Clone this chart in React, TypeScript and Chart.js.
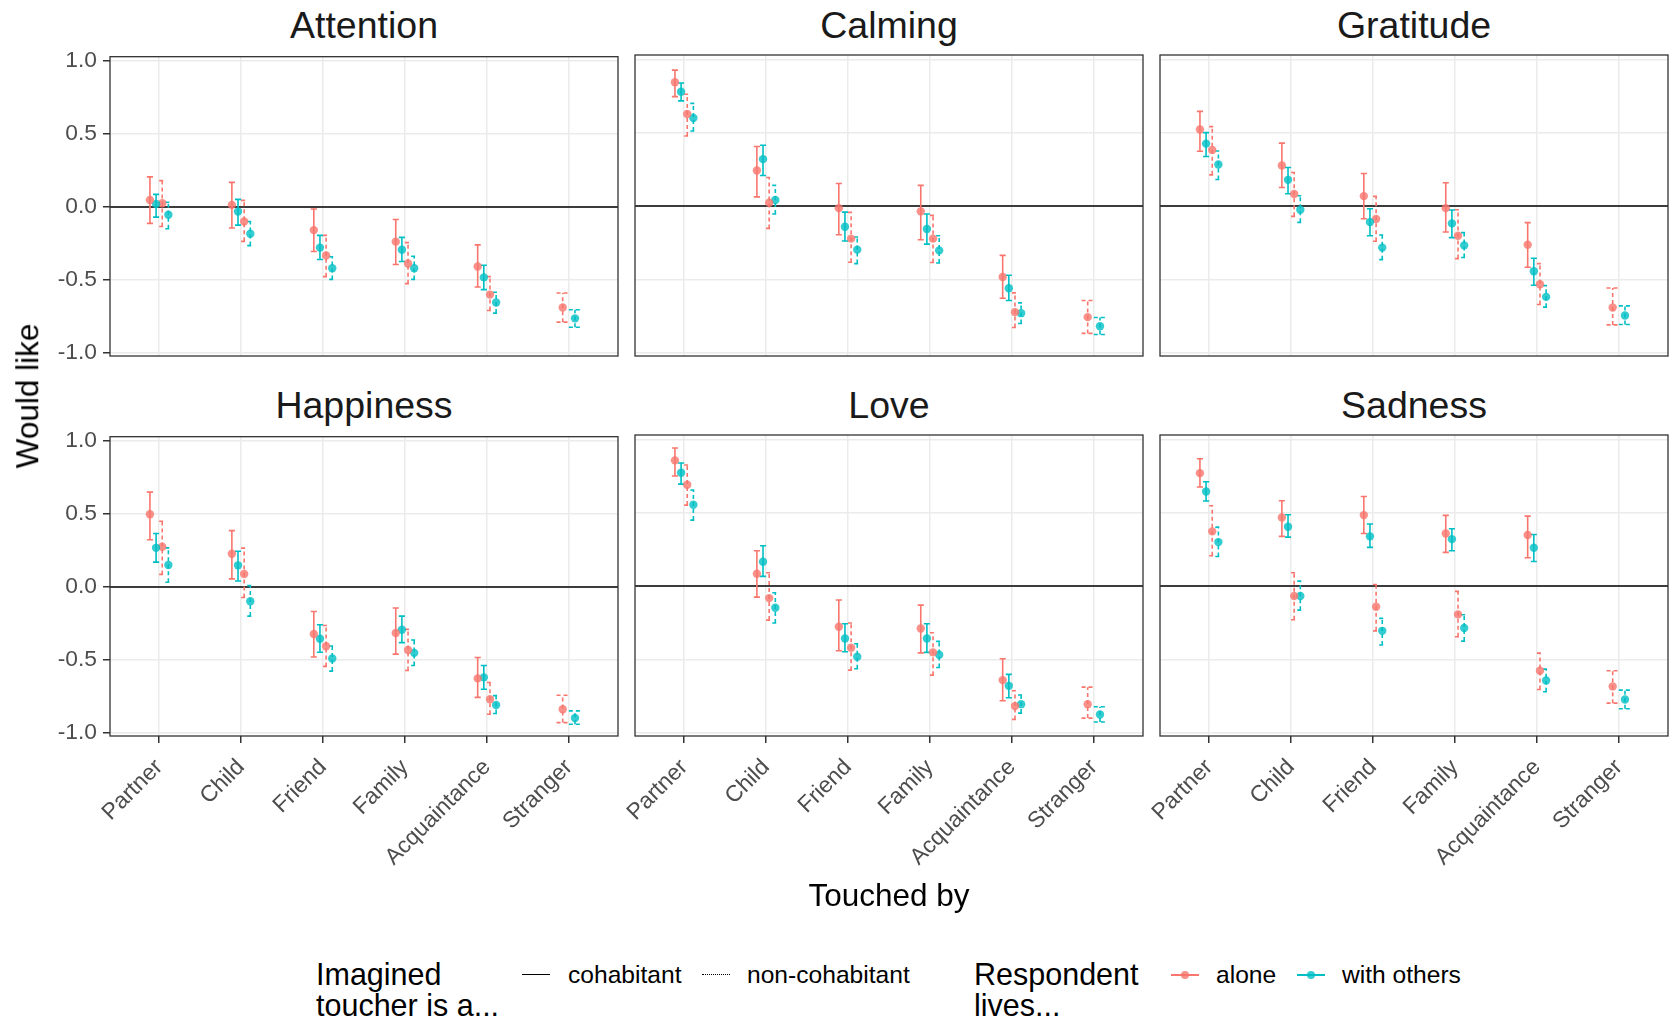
import React, { useEffect, useRef } from "react";
import { Chart, registerables } from "chart.js";

Chart.register(...registerables);

// ---------------- data ----------------
const categories = ["Partner", "Child", "Friend", "Family", "Acquaintance", "Stranger"];
const emotions = ["Attention", "Calming", "Gratitude", "Happiness", "Love", "Sadness"];
const yTicks = [-1, -0.5, 0, 0.5, 1];
const groupLabels = ["cohabitant / alone", "cohabitant / with others", "non-cohabitant / alone", "non-cohabitant / with others"];

// each entry: [mean, lower, upper]; null = no estimate
const attentionCohabAlone = [[0.048, -0.113, 0.206], [0.014, -0.145, 0.168], [-0.159, -0.306, -0.014], [-0.238, -0.395, -0.086], [-0.408, -0.549, -0.26], null];
const attentionCohabOthers = [[0.02, -0.07, 0.086], [-0.032, -0.125, 0.052], [-0.279, -0.36, -0.195], [-0.293, -0.374, -0.209], [-0.483, -0.567, -0.4], null];
const attentionNonAlone = [[0.025, -0.134, 0.18], [-0.1, -0.236, 0.045], [-0.333, -0.478, -0.195], [-0.388, -0.526, -0.245], [-0.601, -0.71, -0.478], [-0.689, -0.79, -0.59]];
const attentionNonOthers = [[-0.054, -0.15, 0.032], [-0.184, -0.265, -0.1], [-0.42, -0.497, -0.342], [-0.42, -0.497, -0.338], [-0.655, -0.728, -0.585], [-0.764, -0.825, -0.705]];

const calmingCohabAlone = [[0.844, 0.746, 0.927], [0.243, 0.063, 0.406], [-0.014, -0.195, 0.154], [-0.036, -0.229, 0.141], [-0.483, -0.628, -0.336], null];
const calmingCohabOthers = [[0.78, 0.717, 0.839], [0.32, 0.209, 0.415], [-0.141, -0.238, -0.041], [-0.156, -0.259, -0.054], [-0.56, -0.644, -0.472], null];
const calmingNonAlone = [[0.628, 0.478, 0.762], [0.023, -0.152, 0.195], [-0.222, -0.383, -0.043], [-0.222, -0.385, -0.063], [-0.723, -0.828, -0.592], [-0.757, -0.868, -0.644]];
const calmingNonOthers = [[0.601, 0.512, 0.7], [0.041, -0.054, 0.141], [-0.297, -0.392, -0.211], [-0.302, -0.388, -0.202], [-0.73, -0.8, -0.66], [-0.819, -0.875, -0.76]];

const gratitudeCohabAlone = [[0.522, 0.374, 0.646], [0.277, 0.127, 0.429], [0.068, -0.086, 0.222], [-0.014, -0.177, 0.159], [-0.263, -0.417, -0.113], null];
const gratitudeCohabOthers = [[0.426, 0.338, 0.501], [0.179, 0.084, 0.263], [-0.109, -0.202, -0.018], [-0.118, -0.215, -0.027], [-0.444, -0.54, -0.356], null];
const gratitudeNonAlone = [[0.383, 0.213, 0.542], [0.082, -0.07, 0.229], [-0.088, -0.24, 0.066], [-0.202, -0.358, -0.025], [-0.533, -0.671, -0.392], [-0.692, -0.81, -0.558]];
const gratitudeNonOthers = [[0.283, 0.181, 0.376], [-0.025, -0.111, 0.07], [-0.283, -0.365, -0.197], [-0.268, -0.351, -0.181], [-0.619, -0.689, -0.542], [-0.746, -0.807, -0.68]];

const happinessCohabAlone = [[0.498, 0.323, 0.65], [0.227, 0.055, 0.386], [-0.323, -0.48, -0.168], [-0.316, -0.461, -0.145], [-0.627, -0.757, -0.484], null];
const happinessCohabOthers = [[0.268, 0.17, 0.366], [0.148, 0.041, 0.245], [-0.355, -0.448, -0.259], [-0.293, -0.382, -0.2], [-0.62, -0.702, -0.539], null];
const happinessNonAlone = [[0.275, 0.086, 0.45], [0.089, -0.073, 0.266], [-0.407, -0.545, -0.264], [-0.432, -0.573, -0.291], [-0.77, -0.873, -0.655], [-0.839, -0.93, -0.743]];
const happinessNonOthers = [[0.15, 0.032, 0.268], [-0.098, -0.2, 0.009], [-0.491, -0.577, -0.405], [-0.452, -0.539, -0.364], [-0.809, -0.868, -0.745], [-0.898, -0.941, -0.85]];

const loveCohabAlone = [[0.857, 0.75, 0.941], [0.084, -0.075, 0.241], [-0.277, -0.441, -0.095], [-0.289, -0.455, -0.13], [-0.641, -0.782, -0.495], null];
const loveCohabOthers = [[0.773, 0.695, 0.839], [0.166, 0.066, 0.275], [-0.357, -0.448, -0.257], [-0.357, -0.452, -0.257], [-0.68, -0.761, -0.602], null];
const loveNonAlone = [[0.691, 0.552, 0.825], [-0.082, -0.232, 0.091], [-0.42, -0.573, -0.252], [-0.452, -0.607, -0.318], [-0.818, -0.909, -0.714], [-0.805, -0.9, -0.689]];
const loveNonOthers = [[0.555, 0.45, 0.655], [-0.148, -0.252, -0.045], [-0.482, -0.564, -0.393], [-0.468, -0.555, -0.377], [-0.805, -0.866, -0.743], [-0.875, -0.927, -0.823]];

const sadnessCohabAlone = [[0.77, 0.675, 0.868], [0.468, 0.339, 0.582], [0.484, 0.359, 0.611], [0.359, 0.23, 0.482], [0.348, 0.193, 0.477], null];
const sadnessCohabOthers = [[0.645, 0.58, 0.711], [0.405, 0.334, 0.486], [0.339, 0.264, 0.423], [0.32, 0.241, 0.391], [0.261, 0.168, 0.352], null];
const sadnessNonAlone = [[0.373, 0.207, 0.548], [-0.068, -0.23, 0.091], [-0.141, -0.305, 0.011], [-0.193, -0.345, -0.036], [-0.577, -0.705, -0.457], [-0.684, -0.798, -0.577]];
const sadnessNonOthers = [[0.3, 0.202, 0.402], [-0.068, -0.164, 0.034], [-0.305, -0.402, -0.22], [-0.286, -0.375, -0.195], [-0.643, -0.72, -0.566], [-0.773, -0.836, -0.709]];

const panelSeries: Record<string, (number[] | null)[][]> = {
  Attention: [attentionCohabAlone, attentionCohabOthers, attentionNonAlone, attentionNonOthers],
  Calming: [calmingCohabAlone, calmingCohabOthers, calmingNonAlone, calmingNonOthers],
  Gratitude: [gratitudeCohabAlone, gratitudeCohabOthers, gratitudeNonAlone, gratitudeNonOthers],
  Happiness: [happinessCohabAlone, happinessCohabOthers, happinessNonAlone, happinessNonOthers],
  Love: [loveCohabAlone, loveCohabOthers, loveNonAlone, loveNonOthers],
  Sadness: [sadnessCohabAlone, sadnessCohabOthers, sadnessNonAlone, sadnessNonOthers],
};

// ---------------- styling ----------------
const RED = "#F8766D";
const TEAL = "#00BFC4";
const RED_PT = "rgba(248,118,109,0.8)";
const TEAL_PT = "rgba(0,191,196,0.8)";
const groupColors = [RED, TEAL, RED, TEAL];
const groupPointColors = [RED_PT, TEAL_PT, RED_PT, TEAL_PT];
const groupDash = [[], [], [4, 3], [4, 3]];
const FONT = "'Liberation Sans', Arial, Helvetica, sans-serif";
const X_MIN = -0.6;
const X_MAX = 5.6;
const Y_MIN = -1.022;
const Y_MAX = 1.03;
const DODGE = 0.3;

const COL_LEFT = [110, 635, 1160];
const COL_RIGHT = [618, 1143, 1668];
const ROW_TOP = [55, 435];
const ROW_BOTTOM = [356, 736];

const TICK_SIZE = 22.8;
const TITLE_SIZE = 31.5;
const LEGEND_TEXT_SIZE = 24.6;
const STRIP_SIZE = 37.5;

const borderPlugin = {
  id: "panelBorder",
  afterDraw(chart: any) {
    const { ctx, chartArea: a } = chart;
    ctx.save();
    ctx.strokeStyle = "#333333";
    ctx.lineWidth = 1.3;
    ctx.strokeRect(a.left, a.top, a.right - a.left, a.bottom - a.top);
    ctx.restore();
  },
};

function Panel({ title, row, col }: { title: string; row: number; col: number }) {
  const ref = useRef<HTMLCanvasElement>(null);
  const L = COL_LEFT[col];
  const R = COL_RIGHT[col];
  const T = ROW_TOP[row];
  const B = ROW_BOTTOM[row];
  const yW = col === 0 ? 70 : 0;
  const padL = col === 0 ? 0 : 24;
  const padT = 18;
  const padR = 12;
  const padB = row === 1 ? 0 : 18;
  const xH = row === 1 ? 180 : 2;
  const cLeft = L - yW - padL;
  const cTop = T - padT;
  const cW = R - cLeft + padR;
  const cH = B - cTop + xH + padB;

  useEffect(() => {
    const series = panelSeries[title];
    const datasets: any[] = [];
    datasets.push({
      data: [{ x: X_MIN, y: 0 }, { x: X_MAX, y: 0 }],
      showLine: true,
      borderColor: "#000000",
      borderWidth: 1.5,
      pointRadius: 0,
      order: 10,
    });
    const barData: any[][] = series.map(() => []);
    const ptData: any[][] = series.map(() => []);
    categories.forEach((_, i) => {
      const present = series.map((s, g) => (s[i] ? g : -1)).filter((g) => g >= 0);
      const n = present.length;
      const slot = DODGE / n;
      present.forEach((g, k) => {
        const [m, lo, hi] = series[g][i] as number[];
        const x = i + (k - (n - 1) / 2) * slot;
        const hw = slot / 2;
        barData[g].push(
          { x, y: lo }, { x, y: hi }, { x, y: null },
          { x: x - hw, y: lo }, { x: x + hw, y: lo }, { x, y: null },
          { x: x - hw, y: hi }, { x: x + hw, y: hi }, { x, y: null }
        );
        ptData[g].push({ x, y: m });
      });
    });
    series.forEach((_, g) => {
      datasets.push({
        label: groupLabels[g],
        data: barData[g],
        showLine: true,
        spanGaps: false,
        borderColor: groupColors[g],
        borderWidth: 1.6,
        borderDash: groupDash[g],
        pointRadius: 0,
        order: 5,
      });
    });
    series.forEach((_, g) => {
      datasets.push({
        label: groupLabels[g],
        data: ptData[g],
        showLine: false,
        pointRadius: 4.2,
        pointBorderWidth: 0,
        pointBackgroundColor: groupPointColors[g],
        pointBorderColor: groupPointColors[g],
        order: 1,
      });
    });

    const chart = new Chart(ref.current as HTMLCanvasElement, {
      type: "scatter",
      data: { datasets },
      plugins: [borderPlugin],
      options: {
        animation: false,
        responsive: false,
        events: [],
        layout: { padding: { left: padL, top: padT, right: padR, bottom: padB } },
        plugins: { legend: { display: false }, tooltip: { enabled: false } },
        scales: {
          x: {
            type: "linear",
            min: X_MIN,
            max: X_MAX,
            afterBuildTicks: (s: any) => {
              s.ticks = categories.map((_, i) => ({ value: i }));
            },
            afterFit: (s: any) => {
              s.height = xH;
            },
            ticks: {
              display: row === 1,
              autoSkip: false,
              minRotation: 45,
              maxRotation: 45,
              padding: 11,
              color: "#4D4D4D",
              font: { family: FONT, size: TICK_SIZE },
              callback: (v: any) => categories[Math.round(Number(v))],
            },
            grid: {
              color: "#EBEBEB",
              lineWidth: 1.5,
              drawTicks: row === 1,
              tickColor: "#333333",
              tickLength: 7,
              tickWidth: 1.5,
            },
            border: { display: false },
          },
          y: {
            type: "linear",
            min: Y_MIN,
            max: Y_MAX,
            afterBuildTicks: (s: any) => {
              s.ticks = yTicks.map((v) => ({ value: v }));
            },
            afterFit: (s: any) => {
              s.width = yW;
            },
            ticks: {
              display: col === 0,
              padding: 6,
              color: "#4D4D4D",
              font: { family: FONT, size: TICK_SIZE },
              callback: (v: any) => Number(v).toFixed(1),
            },
            grid: {
              color: "#EBEBEB",
              lineWidth: 1.5,
              drawTicks: col === 0,
              tickColor: "#333333",
              tickLength: 7,
              tickWidth: 1.5,
            },
            border: { display: false },
          },
        },
      } as any,
    });
    return () => chart.destroy();
  }, [title, row, col]);

  return (
    <>
      <div
        style={{
          position: "absolute",
          left: (L + R) / 2,
          top: T - 16 - 0.8465 * STRIP_SIZE,
          transform: "translateX(-50%)",
          fontFamily: FONT,
          fontSize: STRIP_SIZE,
          lineHeight: 1,
          color: "#1A1A1A",
          whiteSpace: "nowrap",
        }}
      >
        {title}
      </div>
      <canvas
        ref={ref}
        width={cW}
        height={cH}
        style={{ position: "absolute", left: cLeft, top: cTop, width: cW, height: cH }}
      />
    </>
  );
}

function Txt({ x, baseline, size, children, color = "#000000" }: any) {
  return (
    <div
      style={{
        position: "absolute",
        left: x,
        top: baseline - 0.8465 * size,
        fontFamily: FONT,
        fontSize: size,
        lineHeight: 1,
        color,
        whiteSpace: "nowrap",
      }}
    >
      {children}
    </div>
  );
}

function LineKey({ x, y, dashed }: { x: number; y: number; dashed: boolean }) {
  return (
    <div
      style={{
        position: "absolute",
        left: x,
        top: y - 0.75,
        width: 28,
        height: 0,
        borderTop: dashed ? "1.5px dotted #000" : "1.5px solid #000",
      }}
    />
  );
}

function PointKey({ x, y, color, fill }: { x: number; y: number; color: string; fill: string }) {
  return (
    <>
      <div style={{ position: "absolute", left: x, top: y - 0.75, width: 28, height: 1.5, background: color }} />
      <div
        style={{
          position: "absolute",
          left: x + 14 - 4.2,
          top: y - 4.2,
          width: 8.4,
          height: 8.4,
          borderRadius: "50%",
          background: fill,
        }}
      />
    </>
  );
}

export default function App() {
  return (
    <div
      style={{
        position: "absolute",
        left: 0,
        top: 0,
        width: 1673,
        height: 1023,
        background: "#FFFFFF",
        overflow: "hidden",
      }}
    >
      {emotions.map((e, idx) => (
        <Panel key={e} title={e} row={Math.floor(idx / 3)} col={idx % 3} />
      ))}
      <div
        style={{
          position: "absolute",
          left: 27.5,
          top: 396,
          transform: "translate(-50%, -50%) rotate(-90deg)",
          fontFamily: FONT,
          fontSize: TITLE_SIZE,
          lineHeight: 1,
          whiteSpace: "nowrap",
        }}
      >
        Would like
      </div>
      <div
        style={{
          position: "absolute",
          left: 889,
          top: 896,
          transform: "translate(-50%, -50%)",
          fontFamily: FONT,
          fontSize: TITLE_SIZE,
          lineHeight: 1,
          whiteSpace: "nowrap",
        }}
      >
        Touched by
      </div>
      <Txt x={316} baseline={985} size={30.5}>Imagined</Txt>
      <Txt x={316} baseline={1016} size={30.5}>toucher is a...</Txt>
      <LineKey x={522} y={975} dashed={false} />
      <Txt x={568} baseline={984} size={LEGEND_TEXT_SIZE}>cohabitant</Txt>
      <LineKey x={702} y={975} dashed={true} />
      <Txt x={747} baseline={984} size={LEGEND_TEXT_SIZE}>non-cohabitant</Txt>
      <Txt x={974} baseline={985} size={30.5}>Respondent</Txt>
      <Txt x={974} baseline={1016} size={30.5}>lives...</Txt>
      <PointKey x={1171} y={975} color={RED} fill={RED_PT} />
      <Txt x={1216} baseline={984} size={LEGEND_TEXT_SIZE}>alone</Txt>
      <PointKey x={1297} y={975} color={TEAL} fill={TEAL_PT} />
      <Txt x={1342} baseline={984} size={LEGEND_TEXT_SIZE}>with others</Txt>
    </div>
  );
}
